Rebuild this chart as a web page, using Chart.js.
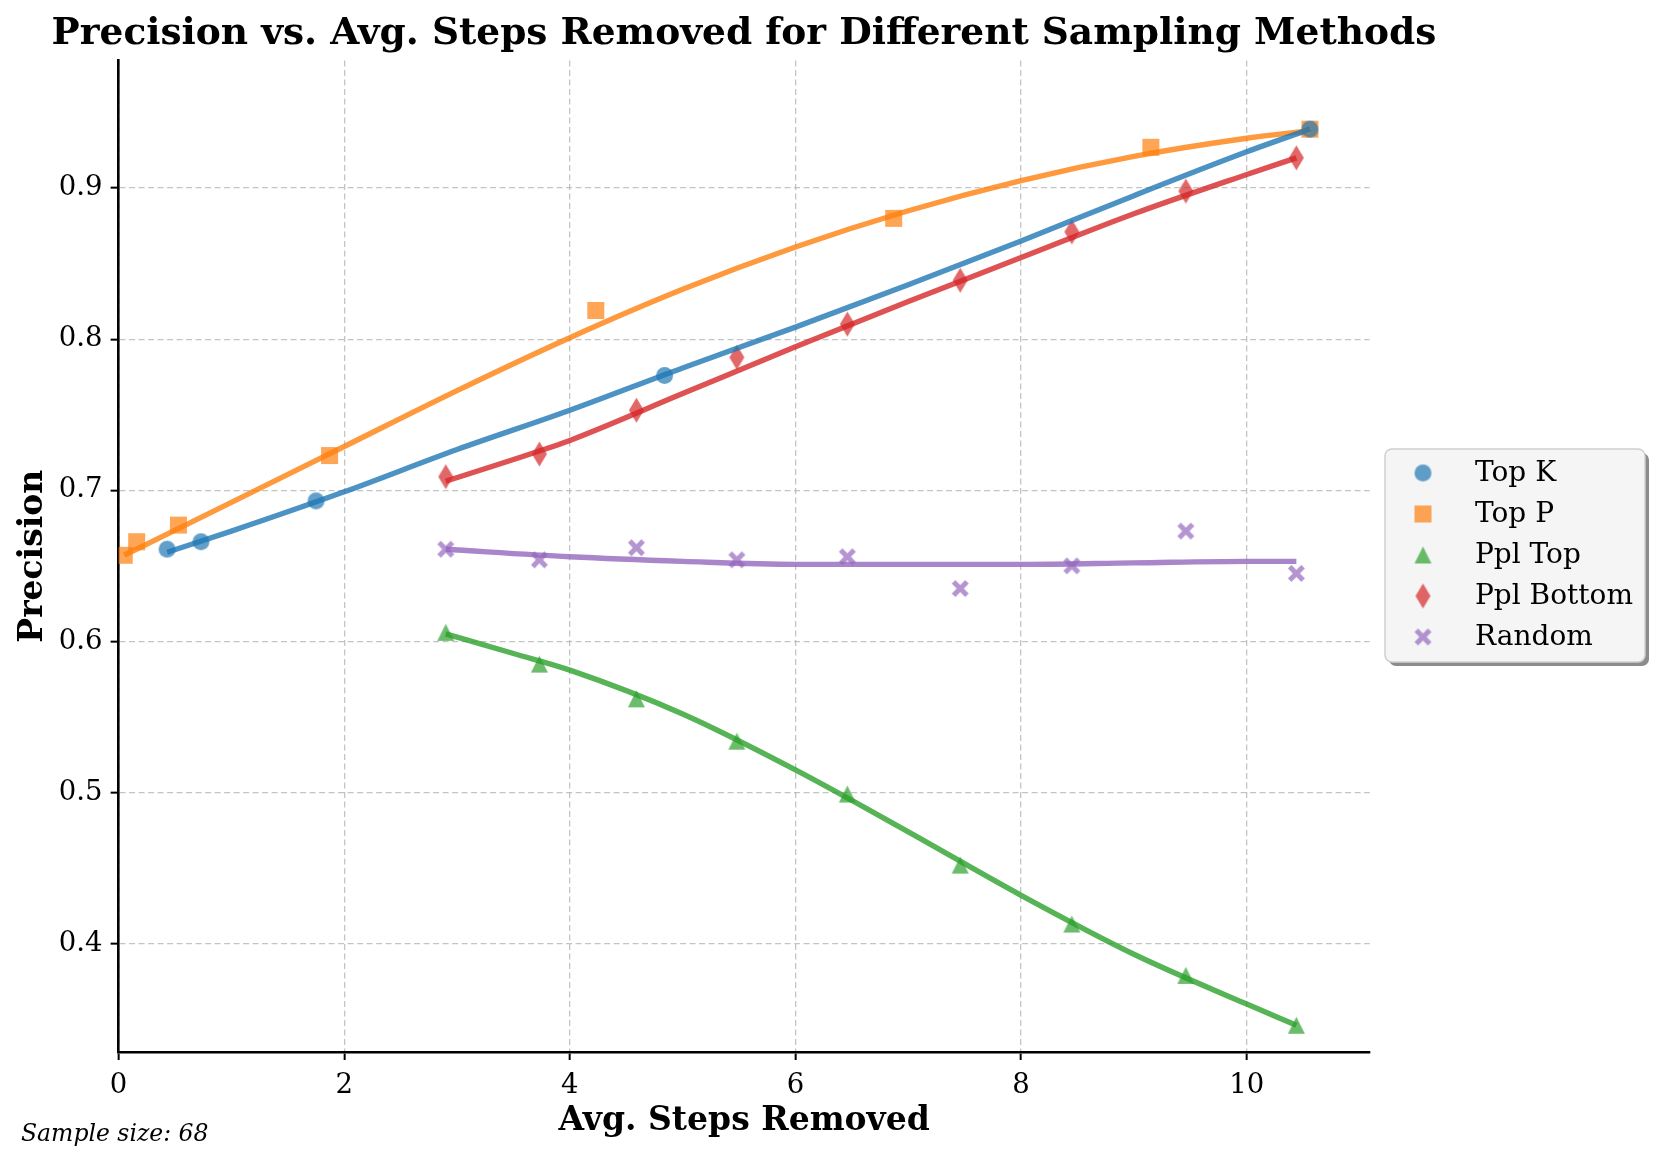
<!DOCTYPE html>
<html>
<head>
<meta charset="utf-8">
<script src="https://cdn.jsdelivr.net/npm/chart.js@4.4.1/dist/chart.umd.min.js"></script>
<style>
  html, body { margin: 0; padding: 0; background: #fff; }
  #wrap { width: 1661px; height: 1165px; }
</style>
</head>
<body>
<div id="wrap"><canvas id="chart" width="1661" height="1165"></canvas></div>
<script>
// points
const topKX = [0.43, 0.73, 1.75, 4.84, 10.56];
const topKY = [0.661, 0.666, 0.693, 0.776, 0.939];
const topPX = [0.05, 0.16, 0.53, 1.87, 4.23, 6.87, 9.15, 10.56];
const topPY = [0.657, 0.666, 0.677, 0.723, 0.819, 0.880, 0.927, 0.939];
const pplX = [2.90, 3.73, 4.59, 5.48, 6.46, 7.46, 8.45, 9.46, 10.44];
const pplTopY = [0.606, 0.585, 0.562, 0.534, 0.499, 0.452, 0.413, 0.379, 0.346];
const pplBottomY = [0.709, 0.724, 0.753, 0.788, 0.810, 0.839, 0.871, 0.898, 0.920];
const randomY = [0.661, 0.654, 0.662, 0.654, 0.656, 0.635, 0.650, 0.673, 0.645];

// fitted curves, also
const fitTopKX = [0.43, 1, 2, 3, 4, 5, 6, 7, 8, 9, 10, 10.56];
const fitTopKY = [0.659, 0.673, 0.699, 0.727, 0.753, 0.781, 0.808, 0.836, 0.865, 0.895, 0.924, 0.939];
const fitTopPX = [0.05, 1, 2, 3, 4, 5, 6, 7, 8, 9, 10, 10.56];
const fitTopPY = [0.657, 0.692, 0.729, 0.766, 0.801, 0.833, 0.861, 0.885, 0.905, 0.921, 0.933, 0.938];
const fitPplTopX = [2.9, 3.5, 4, 5, 6, 7, 8, 9, 10, 10.44];
const fitPplTopY = [0.605, 0.592, 0.581, 0.552, 0.515, 0.474, 0.432, 0.393, 0.360, 0.346];
const fitPplBottomX = [2.9, 3.73, 4, 5, 6, 7, 8, 9, 10, 10.44];
const fitPplBottomY = [0.706, 0.726, 0.733, 0.764, 0.795, 0.825, 0.854, 0.883, 0.909, 0.920];
const fitRandomX = [2.9, 4, 5, 6, 7, 8, 9, 10, 10.44];
const fitRandomY = [0.661, 0.656, 0.653, 0.651, 0.651, 0.651, 0.652, 0.653, 0.653];

const xTicks = [0, 2, 4, 6, 8, 10];
const yTicks = [0.4, 0.5, 0.6, 0.7, 0.8, 0.9];
const seriesNames = ['Top K', 'Top P', 'Ppl Top', 'Ppl Bottom', 'Random'];
const colors = ['31,119,180', '255,127,14', '44,160,44', '214,39,40', '148,103,189'];
const shapes = ['circle', 'square', 'triangle', 'thinDiamond', 'xFilled'];

const SERIF = '"DejaVu Serif", "Liberation Serif", serif';

function pts(xs, ys) {
  return xs.map((x, i) => ({ x: x, y: ys[i] }));
}

// marker images, close to the matplotlib ones
function makeMarker(shape, rgb) {
  const c = document.createElement('canvas');
  const m = 17;
  let w = m, h = m;
  if (shape === 'thinDiamond') { w = 15; h = 25; }
  c.width = w + 2; c.height = h + 2;
  const g = c.getContext('2d');
  g.fillStyle = 'rgba(' + rgb + ',0.7)';
  const cx = c.width / 2, cy = c.height / 2;
  g.beginPath();
  if (shape === 'circle') {
    g.arc(cx, cy, m / 2, 0, Math.PI * 2);
  } else if (shape === 'square') {
    g.rect(cx - m / 2, cy - m / 2, m, m);
  } else if (shape === 'triangle') {
    g.moveTo(cx, cy - m / 2);
    g.lineTo(cx + m / 2, cy + m / 2);
    g.lineTo(cx - m / 2, cy + m / 2);
    g.closePath();
  } else if (shape === 'thinDiamond') {
    g.moveTo(cx, cy - h / 2);
    g.lineTo(cx + w / 2, cy);
    g.lineTo(cx, cy + h / 2);
    g.lineTo(cx - w / 2, cy);
    g.closePath();
  } else if (shape === 'xFilled') {
    const a = m / 2, t = 3.6;
    g.moveTo(cx - a, cy - a + t); g.lineTo(cx - a + t, cy - a); g.lineTo(cx, cy - t);
    g.lineTo(cx + a - t, cy - a); g.lineTo(cx + a, cy - a + t); g.lineTo(cx + t, cy);
    g.lineTo(cx + a, cy + a - t); g.lineTo(cx + a - t, cy + a); g.lineTo(cx, cy + t);
    g.lineTo(cx - a + t, cy + a); g.lineTo(cx - a, cy + a - t); g.lineTo(cx - t, cy);
    g.closePath();
  }
  g.fill();
  return c;
}

const markers = shapes.map((s, i) => makeMarker(s, colors[i]));

const scatterSets = [
  pts(topKX, topKY), pts(topPX, topPY), pts(pplX, pplTopY), pts(pplX, pplBottomY), pts(pplX, randomY)
];
const fitSets = [
  pts(fitTopKX, fitTopKY), pts(fitTopPX, fitTopPY), pts(fitPplTopX, fitPplTopY),
  pts(fitPplBottomX, fitPplBottomY), pts(fitRandomX, fitRandomY)
];

const datasets = [];
fitSets.forEach((d, i) => {
  datasets.push({
    type: 'line', label: seriesNames[i] + ' fit', data: d, order: 0,
    showLine: true, pointRadius: 0, borderWidth: 5.4,
    borderColor: 'rgba(' + colors[i] + ',0.8)', cubicInterpolationMode: 'monotone', fill: false
  });
});
scatterSets.forEach((d, i) => {
  datasets.push({
    type: 'scatter', label: seriesNames[i], data: d, order: 1,
    pointStyle: markers[i], pointRadius: 9, showLine: false
  });
});

// title, legend box and footnote
const extras = {
  id: 'extras',
  afterDraw(chart) {
    const ctx = chart.ctx;
    ctx.save();
    ctx.fillStyle = '#000';
    ctx.font = 'bold 37.5px ' + SERIF;
    ctx.textAlign = 'center';
    ctx.textBaseline = 'alphabetic';
    ctx.fillText('Precision vs. Avg. Steps Removed for Different Sampling Methods', 744, 44);

    ctx.font = 'italic 23.5px ' + SERIF;
    ctx.textAlign = 'left';
    ctx.textBaseline = 'middle';
    ctx.fillText('Sample size: 68', 21, 1135);

    // legend
    const bx = 1385, by = 449, bw = 260, bh = 213, r = 7;
    function roundRect(x, y, w, h) {
      ctx.beginPath();
      ctx.moveTo(x + r, y);
      ctx.arcTo(x + w, y, x + w, y + h, r);
      ctx.arcTo(x + w, y + h, x, y + h, r);
      ctx.arcTo(x, y + h, x, y, r);
      ctx.arcTo(x, y, x + w, y, r);
      ctx.closePath();
    }
    roundRect(bx + 4, by + 4, bw, bh);
    ctx.fillStyle = '#8c8c8c';
    ctx.fill();
    roundRect(bx, by, bw, bh);
    ctx.fillStyle = '#f5f5f5';
    ctx.fill();
    ctx.lineWidth = 1.5;
    ctx.strokeStyle = '#cfcfcf';
    ctx.stroke();
    ctx.font = '28px ' + SERIF;
    ctx.fillStyle = '#000';
    ctx.textAlign = 'left';
    ctx.textBaseline = 'middle';
    seriesNames.forEach((name, i) => {
      const y = 473 + i * 41;
      const img = markers[i];
      ctx.drawImage(img, 1423 - img.width / 2, y - img.height / 2);
      ctx.fillText(name, 1475, y + 1);
    });
    ctx.restore();
  }
};

const gridColor = 'rgba(176,176,176,0.75)';
new Chart(document.getElementById('chart'), {
  type: 'scatter',
  data: { datasets: datasets },
  options: {
    responsive: false,
    animation: false,
    events: [],
    layout: { padding: { top: 60.4, right: 291.3, left: 0, bottom: 0 } },
    plugins: { legend: { display: false }, tooltip: { enabled: false }, title: { display: false } },
    scales: {
      x: {
        type: 'linear', min: 0, max: 11.09,
        afterFit(s) { s.height = 113; },
        afterBuildTicks(s) { s.ticks = xTicks.map(v => ({ value: v })); },
        ticks: { font: { family: SERIF, size: 27.5 }, color: '#000', padding: 9, maxRotation: 0 },
        grid: { color: gridColor, lineWidth: 1.3, tickColor: '#000', tickLength: 8, tickWidth: 2 },
        border: { color: '#000', width: 2.6, dash: [6, 3.5] },
        title: { display: true, text: 'Avg. Steps Removed', color: '#000',
                 font: { family: SERIF, size: 33, weight: 'bold' }, padding: { top: 0, bottom: 24 } }
      },
      y: {
        type: 'linear', min: 0.3283, max: 0.9845,
        afterFit(s) { s.width = 118.6; },
        afterBuildTicks(s) { s.ticks = yTicks.map(v => ({ value: v })); },
        ticks: { font: { family: SERIF, size: 27.5 }, color: '#000', padding: 8,
                 callback: v => v.toFixed(1) },
        grid: { color: gridColor, lineWidth: 1.3, tickColor: '#000', tickLength: 8, tickWidth: 2 },
        border: { color: '#000', width: 2.6, dash: [6, 3.5] },
        title: { display: true, text: 'Precision', color: '#000',
                 font: { family: SERIF, size: 33, weight: 'bold' }, padding: { top: 14, bottom: 0 } }
      }
    }
  },
  plugins: [extras]
});
</script>
</body>
</html>
